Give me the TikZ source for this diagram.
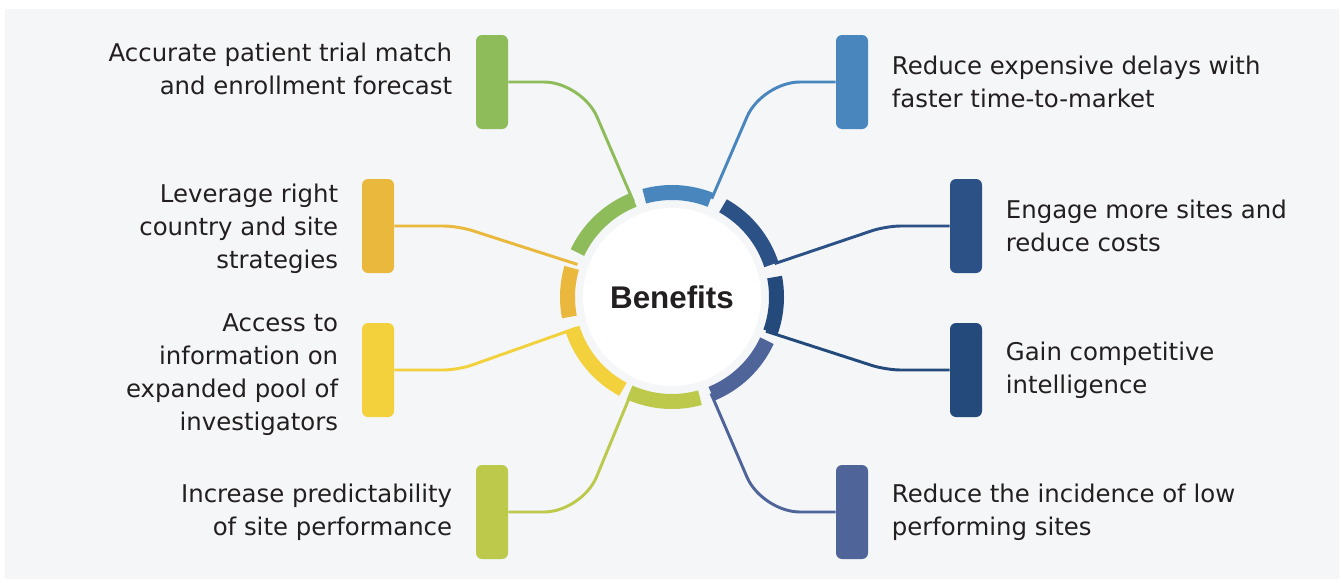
\documentclass[tikz,border=0pt]{standalone}
\usepackage{fontspec}
\setmainfont{DejaVu Sans}
\newfontfamily\headfont{Liberation Sans}
\usepackage{tikz}
\usetikzlibrary{positioning,calc}

\definecolor{panel}{HTML}{F4F6F8}
\definecolor{ink}{HTML}{231F20}
\definecolor{cgreen}{HTML}{8FBC5A}
\definecolor{cblue}{HTML}{4A86BE}
\definecolor{cnavy}{HTML}{2B5186}
\definecolor{cnavyd}{HTML}{234A7B}
\definecolor{cslate}{HTML}{4F6599}
\definecolor{cyg}{HTML}{BCC94A}
\definecolor{cyel}{HTML}{F2D13D}
\definecolor{corange}{HTML}{E9B83C}

\tikzset{
    bar/.style={fill=#1, rounded corners=4.5pt, minimum width=24pt, minimum height=70.5pt, inner sep=0pt},
    lbl/.style={font=\fontsize{18.3}{24.75}\selectfont, text=ink, inner sep=0pt},
    link/.style={draw=#1, line width=2.2pt},
    seg/.style={draw=#1, line width=11.25pt}
}

\begin{document}
\begin{tikzpicture}[x=0.75pt, y=0.75pt]
    \useasboundingbox (0,0) rectangle (1341,-582);
    \fill[panel] (5,-9) rectangle (1339,-579);

    \node (C) [circle, fill=white, minimum size=133.5pt, inner sep=0pt, text=ink,
        font=\headfont\fontsize{23.5}{28}\selectfont\bfseries] at (672,-297) {Benefits};

    \node (B1) [bar=cgreen] at (492,-82) {};
    \node (B2) [bar=cblue] at (852,-82) {};
    \node (B3) [bar=corange] at (378,-226) {};
    \node (B4) [bar=cnavy] at (966,-226) {};
    \node (B5) [bar=cyel] at (378,-370) {};
    \node (B6) [bar=cnavyd] at (966,-370) {};
    \node (B7) [bar=cyg] at (492,-512) {};
    \node (B8) [bar=cslate] at (852,-512) {};

    \node (T1) [lbl, align=right, left=17.5pt of B1, yshift=10pt] {Accurate patient trial match\\and enrollment forecast};
    \node (T2) [lbl, align=left, right=17.5pt of B2] {Reduce expensive delays with\\faster time-to-market};
    \node (T3) [lbl, align=right, left=17.5pt of B3, yshift=-2pt] {Leverage right\\country and site\\strategies};
    \node (T4) [lbl, align=left, right=17.5pt of B4] {Engage more sites and\\reduce costs};
    \node (T5) [lbl, align=right, left=17.5pt of B5, yshift=-3.5pt] {Access to\\information on\\expanded pool of\\investigators};
    \node (T6) [lbl, align=left, right=17.5pt of B6] {Gain competitive\\intelligence};
    \node (T7) [lbl, align=right, left=17.5pt of B7] {Increase predictability\\of site performance};
    \node (T8) [lbl, align=left, right=17.5pt of B8] {Reduce the incidence of low\\performing sites};

    \coordinate (E1) at ($(C)+(112:103)$);
    \coordinate (E2) at ($(C)+(68:106)$);
    \coordinate (E3) at ($(C)+(161:100)$);
    \coordinate (E4) at ($(C)+(18:108)$);
    \coordinate (E5) at ($(C)+(198:100)$);
    \coordinate (E6) at ($(C)+(340:100)$);
    \coordinate (E7) at ($(C)+(247:103)$);
    \coordinate (E8) at ($(C)+(292:104)$);

    \draw[link=cgreen, rounded corners=28.5pt] (B1.east) -- (582,-82) -- (E1);
    \draw[link=cblue, rounded corners=28.5pt] (B2.west) -- (762,-82) -- (E2);
    \draw[link=corange, rounded corners=11pt] (B3.east) -- (458,-226) -- (E3);
    \draw[link=cnavy, rounded corners=11pt] (B4.west) -- (886,-226) -- (E4);
    \draw[link=cyel, rounded corners=11pt] (B5.east) -- (458,-370) -- (E5);
    \draw[link=cnavyd, rounded corners=11pt] (B6.west) -- (886,-370) -- (E6);
    \draw[link=cyg, rounded corners=28.5pt] (B7.east) -- (582,-512) -- (E7);
    \draw[link=cslate, rounded corners=28.5pt] (B8.west) -- (762,-512) -- (E8);

    \draw[seg=cblue] ($(C)+(68.5:104.5)$) arc[start angle=68.5, end angle=105.4, radius=104.5];
    \draw[seg=cgreen] ($(C)+(111.5:104.5)$) arc[start angle=111.5, end angle=154.8, radius=104.5];
    \draw[seg=corange] ($(C)+(163.8:104.5)$) arc[start angle=163.8, end angle=191, radius=104.5];
    \draw[seg=cyel] ($(C)+(197.4:104.5)$) arc[start angle=197.4, end angle=242, radius=104.5];
    \draw[seg=cyg] ($(C)+(246:104.5)$) arc[start angle=246, end angle=285.5, radius=104.5];
    \draw[seg=cslate] ($(C)+(292.2:104.5)$) arc[start angle=292.2, end angle=335.3, radius=104.5];
    \draw[seg=cnavyd] ($(C)+(340.5:104.5)$) arc[start angle=340.5, end angle=371, radius=104.5];
    \draw[seg=cnavy] ($(C)+(18:104.5)$) arc[start angle=18, end angle=60.8, radius=104.5];
\end{tikzpicture}
\end{document}
